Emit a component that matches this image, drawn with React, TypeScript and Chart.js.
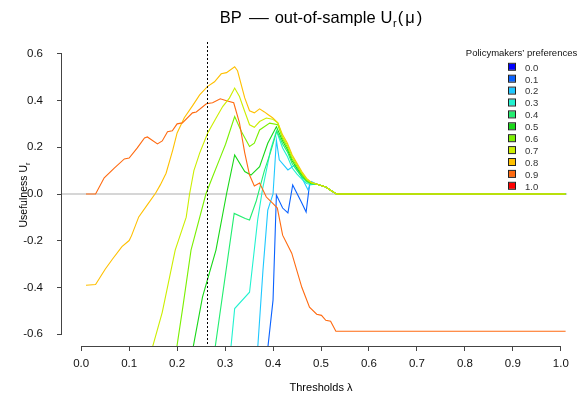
import React, { useEffect, useRef } from "react";
import { Chart, registerables } from "chart.js";

Chart.register(...registerables);

// ---------- data ----------
const preferences = ["0.0", "0.1", "0.2", "0.3", "0.4", "0.5", "0.6", "0.7", "0.8", "0.9", "1.0"];
const colors = ["#0000FF", "#0a62ff", "#1ec8ff", "#22f2d0", "#22ee70", "#18d818", "#7af000", "#ccee00", "#ffc000", "#ff6a10", "#ff0000"];
const xTicks = [0, 0.1, 0.2, 0.3, 0.4, 0.5, 0.6, 0.7, 0.8, 0.9, 1.0];
const yTicks = [-0.6, -0.4, -0.2, 0, 0.2, 0.4, 0.6];
const cutoffLambda = 0.2626;

// common tail (all preference curves 0.1–0.8 merge here)
const envLam = [0.49, 0.5, 0.51, 0.52, 0.532, 1.01];
const envU = [0.043, 0.036, 0.03, 0.016, 0, 0];

const lam00: number[] = [];
const u00: number[] = [];

const lam01 = [0.389, 0.4, 0.407, 0.42, 0.431, 0.441, 0.459, 0.469, 0.476, 0.48];
const u01 = [-0.66, -0.454, -0.004, -0.06, -0.081, 0.039, -0.034, -0.077, 0.039, 0.05];

const lam02 = [0.368, 0.379, 0.389, 0.4, 0.407, 0.413, 0.431, 0.445, 0.459, 0.473, 0.48];
const u02 = [-0.66, -0.326, -0.069, 0.0, 0.23, 0.146, 0.103, 0.124, 0.074, 0.017, 0.053];

const lam03 = [0.312, 0.32, 0.351, 0.368, 0.378, 0.395, 0.407, 0.42, 0.43, 0.44, 0.45, 0.46, 0.47, 0.48];
const u03 = [-0.66, -0.49, -0.42, -0.11, 0.02, 0.19, 0.27, 0.197, 0.16, 0.111, 0.085, 0.064, 0.045, 0.04];

const lam04 = [0.279, 0.309, 0.319, 0.342, 0.351, 0.365, 0.382, 0.395, 0.408, 0.42, 0.43, 0.44, 0.45, 0.46, 0.47, 0.48];
const u04 = [-0.66, -0.226, -0.083, -0.105, -0.111, -0.03, 0.1, 0.18, 0.27, 0.214, 0.18, 0.129, 0.1, 0.073, 0.052, 0.043];

const lam05 = [0.233, 0.253, 0.281, 0.303, 0.32, 0.341, 0.354, 0.372, 0.389, 0.407, 0.42, 0.43, 0.44, 0.45, 0.46, 0.47, 0.48];
const u05 = [-0.66, -0.44, -0.24, 0.0, 0.167, 0.096, 0.081, 0.117, 0.217, 0.288, 0.227, 0.19, 0.141, 0.11, 0.081, 0.057, 0.045];

const lam06 = [0.199, 0.212, 0.229, 0.26, 0.274, 0.288, 0.301, 0.32, 0.334, 0.351, 0.361, 0.372, 0.393, 0.41, 0.42, 0.43, 0.44, 0.45, 0.46, 0.47, 0.48];
const u06 = [-0.66, -0.483, -0.24, 0.0, 0.074, 0.146, 0.213, 0.331, 0.267, 0.203, 0.217, 0.274, 0.303, 0.296, 0.236, 0.2, 0.15, 0.118, 0.086, 0.06, 0.046];

const lam07 = [0.148, 0.169, 0.196, 0.219, 0.226, 0.235, 0.247, 0.264, 0.281, 0.295, 0.309, 0.32, 0.33, 0.341, 0.351, 0.361, 0.372, 0.386, 0.399, 0.41, 0.42, 0.43, 0.44, 0.45, 0.46, 0.47, 0.48];
const u07 = [-0.66, -0.506, -0.24, -0.099, 0.0, 0.1, 0.175, 0.262, 0.324, 0.374, 0.41, 0.453, 0.417, 0.353, 0.296, 0.285, 0.31, 0.325, 0.32, 0.304, 0.244, 0.21, 0.159, 0.125, 0.09, 0.063, 0.048];

const lam08 = [0.01, 0.03, 0.05, 0.065, 0.085, 0.1, 0.105, 0.12, 0.14, 0.155, 0.165, 0.177, 0.191, 0.2, 0.215, 0.232, 0.247, 0.263, 0.278, 0.292, 0.303, 0.32, 0.326, 0.341, 0.351, 0.361, 0.372, 0.382, 0.39, 0.399, 0.41, 0.42, 0.43, 0.44, 0.45, 0.46, 0.47, 0.48];
const u08 = [-0.39, -0.387, -0.322, -0.279, -0.225, -0.199, -0.178, -0.098, -0.04, 0.003, 0.039, 0.089, 0.189, 0.261, 0.326, 0.377, 0.424, 0.459, 0.48, 0.514, 0.519, 0.544, 0.527, 0.411, 0.356, 0.347, 0.364, 0.351, 0.339, 0.326, 0.304, 0.253, 0.217, 0.167, 0.131, 0.096, 0.067, 0.05];

const lam09 = [0.01, 0.03, 0.048, 0.069, 0.09, 0.1, 0.117, 0.132, 0.138, 0.159, 0.169, 0.18, 0.19, 0.2, 0.211, 0.232, 0.24, 0.261, 0.274, 0.29, 0.303, 0.318, 0.33, 0.341, 0.351, 0.361, 0.372, 0.386, 0.399, 0.409, 0.42, 0.439, 0.46, 0.476, 0.491, 0.501, 0.51, 0.52, 0.531, 1.01];
const u09 = [0, 0, 0.069, 0.111, 0.15, 0.154, 0.197, 0.24, 0.244, 0.214, 0.227, 0.266, 0.27, 0.3, 0.304, 0.347, 0.351, 0.386, 0.39, 0.407, 0.399, 0.39, 0.304, 0.176, 0.081, 0.034, 0.047, -0.013, -0.039, -0.06, -0.176, -0.253, -0.399, -0.484, -0.514, -0.519, -0.54, -0.544, -0.587, -0.587];

const lam10: number[] = [];
const u10: number[] = [];

const seriesLam = [lam00, lam01, lam02, lam03, lam04, lam05, lam06, lam07, lam08, lam09, lam10];
const seriesU = [u00, u01, u02, u03, u04, u05, u06, u07, u08, u09, u10];
const mergesIntoTail = [false, true, true, true, true, true, true, true, true, false, false];
const drawOrder = [10, 9, 8, 7, 6, 5, 4, 0, 2, 1, 3];

const FONT = "'Liberation Sans', Arial, Helvetica, sans-serif";

function buildPoints(i: number) {
  const pts = seriesLam[i].map((x, k) => ({ x, y: seriesU[i][k] }));
  if (mergesIntoTail[i]) envLam.forEach((x, k) => pts.push({ x, y: envU[k] }));
  return pts;
}

const decorPlugin = {
  id: "decor",
  beforeDatasetsDraw(chart: any) {
    const { ctx, chartArea, scales } = chart;
    const x = scales.x, y = scales.y;
    ctx.save();
    ctx.strokeStyle = "#d6d6d6";
    ctx.lineWidth = 2;
    ctx.beginPath();
    const y0 = Math.round(y.getPixelForValue(0));
    ctx.moveTo(chartArea.left, y0);
    ctx.lineTo(x.getPixelForValue(1.013), y0);
    ctx.stroke();
    ctx.restore();
  },
  afterDraw(chart: any) {
    const { ctx, chartArea, scales } = chart;
    const x = scales.x, y = scales.y;
    ctx.save();
    // dotted cutoff
    ctx.strokeStyle = "#000";
    ctx.lineWidth = 1;
    ctx.setLineDash([2, 2]);
    const xc = Math.round(x.getPixelForValue(cutoffLambda)) + 0.5;
    ctx.beginPath();
    ctx.moveTo(xc, chartArea.top);
    ctx.lineTo(xc, chartArea.bottom);
    ctx.stroke();
    ctx.setLineDash([]);

    // axis lines
    ctx.strokeStyle = "#444";
    ctx.lineWidth = 1;
    ctx.beginPath();
    const ax = chartArea.left - 0.5;
    ctx.moveTo(ax, y.getPixelForValue(yTicks[yTicks.length - 1]));
    ctx.lineTo(ax, y.getPixelForValue(yTicks[0]));
    const ay = chartArea.bottom + 0.5;
    ctx.moveTo(x.getPixelForValue(xTicks[0]), ay);
    ctx.lineTo(x.getPixelForValue(xTicks[xTicks.length - 1]), ay);
    ctx.stroke();

    const cx = (chartArea.left + chartArea.right) / 2;
    const cy = (chartArea.top + chartArea.bottom) / 2;

    // title: sequential pieces, centred over the plot
    ctx.fillStyle = "#000";
    ctx.textBaseline = "alphabetic";
    ctx.textAlign = "left";
    const big = `16.5px ${FONT}`;
    const pieces = [
      { t: "BP", f: big, gap: 0, dy: 0, sx: 1 },
      { t: "\u2014", f: big, gap: 7, dy: 0, sx: 1.2 },
      { t: "out-of-sample", f: big, gap: 6, dy: 0, sx: 1 },
      { t: "U", f: big, gap: 5, dy: 0, sx: 1 },
      { t: "r", f: `11px ${FONT}`, gap: 0.5, dy: 4, sx: 1 },
      { t: "(", f: big, gap: 1, dy: 0, sx: 1 },
      { t: "\u03bc", f: big, gap: 2, dy: 0, sx: 1 },
      { t: ")", f: big, gap: 2, dy: 0, sx: 1 },
    ];
    let total = 0;
    pieces.forEach((p) => { ctx.font = p.f; total += p.gap + ctx.measureText(p.t).width * p.sx; });
    let px = cx - total / 2;
    pieces.forEach((p) => {
      ctx.font = p.f;
      px += p.gap;
      const w = ctx.measureText(p.t).width * p.sx;
      ctx.save();
      ctx.translate(px, 23 + p.dy);
      ctx.scale(p.sx, 1);
      ctx.fillText(p.t, 0, 0);
      ctx.restore();
      px += w;
    });

    // x axis title
    ctx.font = `11px ${FONT}`;
    ctx.textAlign = "center";
    ctx.fillText("Thresholds \u03bb", cx, 391);

    // y axis title (rotated)
    ctx.save();
    ctx.translate(26.5, cy + 1);
    ctx.rotate(-Math.PI / 2);
    ctx.font = `10.5px ${FONT}`;
    const m1 = ctx.measureText("Usefulness U").width;
    ctx.font = `7.5px ${FONT}`;
    const m2 = ctx.measureText("r").width;
    const start = -(m1 + m2) / 2;
    ctx.textAlign = "left";
    ctx.font = `10.5px ${FONT}`;
    ctx.fillText("Usefulness U", start, 0);
    ctx.font = `7.5px ${FONT}`;
    ctx.fillText("r", start + m1, 3);
    ctx.restore();

    // legend
    ctx.textAlign = "center";
    ctx.font = `9.5px ${FONT}`;
    ctx.fillStyle = "#111";
    ctx.fillText("Policymakers\u2019 preferences", 521.5, 55.5);
    ctx.textAlign = "left";
    ctx.font = `9.5px ${FONT}`;
    preferences.forEach((lab, i) => {
      const yy = 66.8 + i * 11.9;
      ctx.fillStyle = colors[i];
      ctx.fillRect(509, yy - 3, 6, 6);
      ctx.strokeStyle = "#222";
      ctx.lineWidth = 1;
      ctx.strokeRect(508.5, yy - 3.5, 7, 7);
      ctx.fillStyle = "#333";
      ctx.fillText(lab, 525, yy + 3.8);
    });
    ctx.restore();
  },
};

export default function App() {
  const ref = useRef<HTMLCanvasElement>(null);
  useEffect(() => {
    document.body.style.margin = "0";
    const datasets = preferences.map((p, i) => ({
      label: p,
      data: buildPoints(i),
      borderColor: colors[i],
      backgroundColor: colors[i],
      borderWidth: 1.1,
      pointRadius: 0,
      tension: 0,
      fill: false,
      order: drawOrder[i],
    }));
    const tickFont = { family: FONT, size: 11.5 };
    const chart = new Chart(ref.current as HTMLCanvasElement, {
      type: "line",
      data: { datasets },
      options: {
        animation: false,
        responsive: false,
        devicePixelRatio: 1,
        parsing: false as any,
        normalized: true,
        layout: { padding: { top: 42, right: 2, left: 0, bottom: 0 } },
        plugins: { legend: { display: false }, tooltip: { enabled: false }, title: { display: false } },
        events: [],
        scales: {
          x: {
            type: "linear",
            min: -0.04,
            max: 1.04,
            afterBuildTicks: (s: any) => { s.ticks = xTicks.map((v) => ({ value: v })); },
            afterFit: (s: any) => { s.height = 55; },
            ticks: {
              callback: (v: any) => Number(v).toFixed(1),
              font: tickFont,
              color: "#111",
              padding: 6,
              maxRotation: 0,
              autoSkip: false,
            },
            grid: { drawOnChartArea: false, drawTicks: true, tickLength: 5, color: "#444" },
            border: { display: false },
          },
          y: {
            type: "linear",
            min: -0.65,
            max: 0.65,
            afterBuildTicks: (s: any) => { s.ticks = yTicks.map((v) => ({ value: v })); },
            afterFit: (s: any) => { s.width = 62; },
            ticks: {
              callback: (v: any) => Number(v).toFixed(1),
              font: tickFont,
              color: "#111",
              padding: 14,
              autoSkip: false,
            },
            grid: { drawOnChartArea: false, drawTicks: true, tickLength: 5, color: "#444" },
            border: { display: false },
          },
        },
      },
      plugins: [decorPlugin],
    });
    return () => chart.destroy();
  }, []);
  return (
    <div style={{ width: 582, height: 401 }}>
      <canvas ref={ref} width={582} height={401} style={{ display: "block" }} />
    </div>
  );
}
